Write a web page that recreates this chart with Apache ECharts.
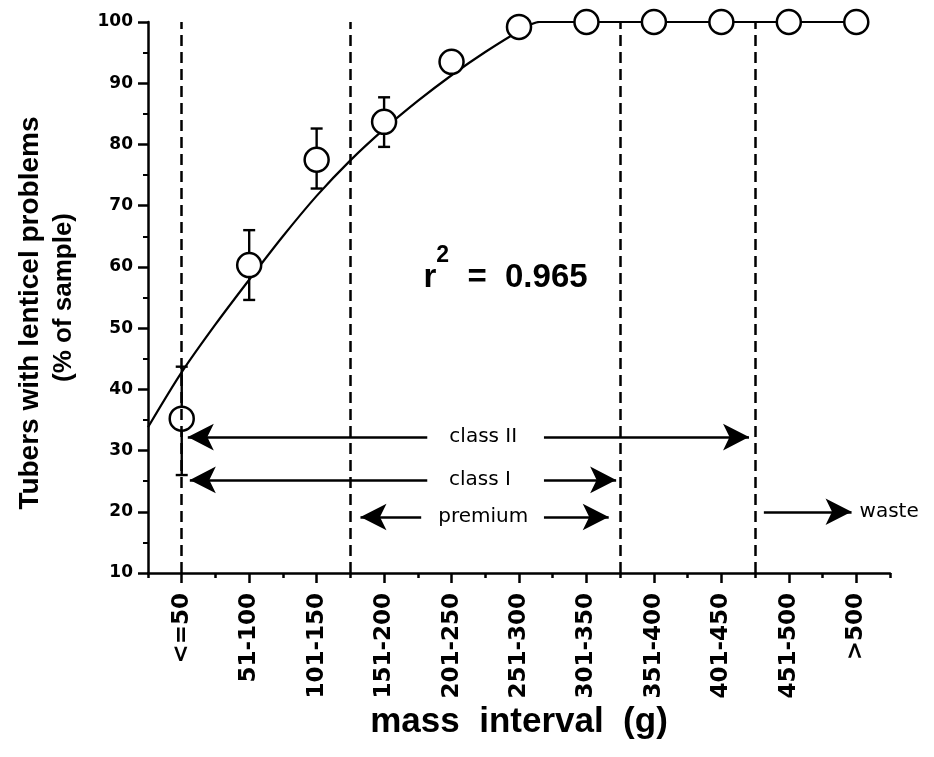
<!DOCTYPE html>
<html>
<head>
<meta charset="utf-8">
<script src="https://cdn.jsdelivr.net/npm/echarts@6/dist/echarts.min.js"></script>
<style>
  html, body { margin: 0; padding: 0; background: #fff; }
  #chart { width: 934px; height: 757px; }
</style>
</head>
<body>
<div id="chart"></div>
<script>
// Mass classes of the tubers (g)
const massIntervals = ['<=50', '51-100', '101-150', '151-200', '201-250', '251-300',
  '301-350', '351-400', '401-450', '451-500', '>500'];

// Mean share of tubers with lenticel problems per class (%)
const meanPct = [35.2, 60.3, 77.5, 83.7, 93.5, 99.2, 100, 100, 100, 100, 100];
// Error bar limits (only the lighter classes carry visible bars)
const errLow  = [26.0, 54.6, 72.8, 79.6];
const errHigh = [43.7, 66.0, 82.6, 87.7];

// Fitted curve, sampled along the class index
const fitX = [-0.5, 0, 0.5, 1, 1.5, 2, 2.5, 3, 3.5, 4, 4.5, 5, 5.3, 6, 7, 8, 9, 10];
const fitY = [33.8, 42.8, 50.6, 57.9, 65.0, 71.6, 77.4, 82.5, 87.1, 91.3, 95.1, 98.5, 100, 100, 100, 100, 100, 100];

// Class borders (class index positions)
const classBounds = [0, 2.5, 6.5, 8.5];

// Quality-class arrows: level, left tip, gap start, gap end, right tip
const arrowNames = ['class II', 'class I', 'premium'];
const arrowLevel = [32.2, 25.2, 19.15];
const arrowLeftTip = [0.09, 0.12, 2.65];
const arrowGapFrom = [3.64, 3.64, 3.55];
const arrowGapTo = [5.37, 5.37, 5.37];
const arrowRightTip = [8.41, 6.44, 6.33];
const arrowLabelX = [4.47, 4.42, 4.47];

// Waste arrow
const wasteArrow = { from: 8.63, to: 9.93, level: 20.0 };

// Goodness of fit
const rSquared = '0.965';
const rSquaredPos = [4.8, 59.6];

const yTicksMin = 10, yTicksMax = 100, yTicksStep = 10;

const chart = echarts.init(document.getElementById('chart'));

const black = '#000';
const arrowSize = [20, 26];

const arrowLines = [];
arrowNames.forEach((n, i) => {
  arrowLines.push([
    { coord: [arrowLeftTip[i], arrowLevel[i]], symbol: 'arrow', symbolSize: arrowSize },
    { coord: [arrowGapFrom[i], arrowLevel[i]], symbol: 'none' }
  ]);
  arrowLines.push([
    { coord: [arrowGapTo[i], arrowLevel[i]], symbol: 'none' },
    { coord: [arrowRightTip[i], arrowLevel[i]], symbol: 'arrow', symbolSize: arrowSize }
  ]);
});
arrowLines.push([
  { coord: [wasteArrow.from, wasteArrow.level], symbol: 'none' },
  {
    coord: [wasteArrow.to, wasteArrow.level], symbol: 'arrow', symbolSize: arrowSize,
    label: {
      show: true, position: 'end', distance: 8, formatter: 'waste',
      fontFamily: 'DejaVu Sans', fontSize: 20, color: black
    }
  }
]);

const option = {
  animation: false,
  backgroundColor: '#fff',
  grid: { left: 148, right: 44, top: 22, bottom: 184 },
  xAxis: [
    {
      type: 'category',
      position: 'bottom',
      data: massIntervals,
      boundaryGap: true,
      name: 'mass  interval  (g)',
      nameLocation: 'middle',
      nameGap: 132,
      nameMoveOverlap: false,
      nameTextStyle: { fontFamily: 'Liberation Sans', fontWeight: 'bold', fontSize: 35, color: black },
      axisLine: { show: true, onZero: false, lineStyle: { color: black, width: 2.5 } },
      axisTick: { show: true, alignWithLabel: true, length: 10, lineStyle: { color: black, width: 2.5 } },
      axisLabel: {
        rotate: 90, margin: 20, interval: 0,
        fontFamily: 'DejaVu Sans', fontWeight: 'bold', fontSize: 23, color: black
      },
      splitLine: { show: false }
    },
    {
      type: 'category',
      position: 'bottom',
      data: massIntervals,
      boundaryGap: true,
      axisLine: { show: false, onZero: false },
      axisTick: { show: true, alignWithLabel: false, interval: 0, length: 5, lineStyle: { color: black, width: 2.5 } },
      axisLabel: { show: false },
      splitLine: { show: false }
    },
    {
      type: 'value',
      position: 'bottom',
      min: -0.5,
      max: 10.5,
      show: false
    }
  ],
  yAxis: {
    type: 'value',
    min: yTicksMin,
    max: yTicksMax,
    interval: yTicksStep,
    name: '{a|Tubers with lenticel problems    }\n{b|(% of sample)}',
    nameLocation: 'middle',
    nameGap: 68,
    nameTextStyle: {
      color: black,
      rich: {
        a: { fontFamily: 'Liberation Sans', fontWeight: 'bold', fontSize: 28, lineHeight: 33, color: black },
        b: { fontFamily: 'Liberation Sans', fontWeight: 'bold', fontSize: 26, lineHeight: 33, color: black }
      }
    },
    axisLine: { show: true, onZero: false, lineStyle: { color: black, width: 2.5 } },
    axisTick: { show: true, length: 10, lineStyle: { color: black, width: 2.5 } },
    minorTick: { show: true, splitNumber: 2, length: 5, lineStyle: { color: black, width: 2 } },
    axisLabel: {
      margin: 15,
      fontFamily: 'DejaVu Sans', fontWeight: 'bold', fontSize: 17, color: black
    },
    splitLine: { show: false },
    minorSplitLine: { show: false }
  },
  series: [
    {
      name: 'fit',
      type: 'line',
      xAxisIndex: 2,
      data: fitX.map((x, i) => [x, fitY[i]]),
      smooth: 0.3,
      showSymbol: false,
      symbol: 'none',
      lineStyle: { color: black, width: 2.2 },
      z: 2,
      markLine: {
        silent: true,
        symbol: 'none',
        label: { show: false },
        lineStyle: { color: black, width: 2.5, type: [11, 6] },
        data: classBounds.map(v => [{ coord: [v, yTicksMin] }, { coord: [v, yTicksMax] }])
      }
    },
    {
      name: 'error',
      type: 'custom',
      xAxisIndex: 2,
      z: 3,
      data: errLow.map((lo, i) => [i, lo, errHigh[i]]),
      renderItem: (params, api) => {
        const x = api.value(0);
        const lo = api.coord([x, api.value(1)]);
        const hi = api.coord([x, api.value(2)]);
        const half = 6;
        const st = { stroke: black, lineWidth: 2.4 };
        return {
          type: 'group',
          children: [
            { type: 'line', shape: { x1: lo[0], y1: lo[1], x2: hi[0], y2: hi[1] }, style: st },
            { type: 'line', shape: { x1: hi[0] - half, y1: hi[1], x2: hi[0] + half, y2: hi[1] }, style: st },
            { type: 'line', shape: { x1: lo[0] - half, y1: lo[1], x2: lo[0] + half, y2: lo[1] }, style: st }
          ]
        };
      }
    },
    {
      name: 'mean',
      type: 'scatter',
      xAxisIndex: 2,
      z: 4,
      data: meanPct.map((v, i) => [i, v]),
      symbol: 'circle',
      symbolSize: 24,
      itemStyle: { color: '#fff', borderColor: black, borderWidth: 2.5, opacity: 1 }
    },
    {
      name: 'classes',
      type: 'scatter',
      xAxisIndex: 2,
      z: 5,
      symbolSize: 0,
      itemStyle: { color: '#fff', opacity: 1 },
      data: arrowNames.map((n, i) => [arrowLabelX[i], arrowLevel[i], n]),
      label: {
        show: true, position: 'inside',
        formatter: p => p.value[2],
        fontFamily: 'DejaVu Sans', fontSize: 20, color: black
      },
      markLine: {
        silent: true,
        label: { show: false },
        lineStyle: { color: black, width: 2.5, type: 'solid' },
        data: arrowLines
      }
    },
    {
      name: 'r2',
      type: 'scatter',
      xAxisIndex: 2,
      z: 5,
      symbolSize: 0,
      itemStyle: { color: '#fff', opacity: 1 },
      data: [rSquaredPos],
      label: {
        show: true, position: 'inside',
        formatter: '{r|r}{s|2}{r|  =  ' + rSquared + '}',
        rich: {
          r: { fontFamily: 'Liberation Sans', fontWeight: 'bold', fontSize: 33, color: black, verticalAlign: 'bottom' },
          s: {
            fontFamily: 'Liberation Sans', fontWeight: 'bold', fontSize: 23, color: black,
            verticalAlign: 'top', padding: [0, 0, 27, 0]
          }
        }
      }
    }
  ]
};

chart.setOption(option);
</script>
</body>
</html>
